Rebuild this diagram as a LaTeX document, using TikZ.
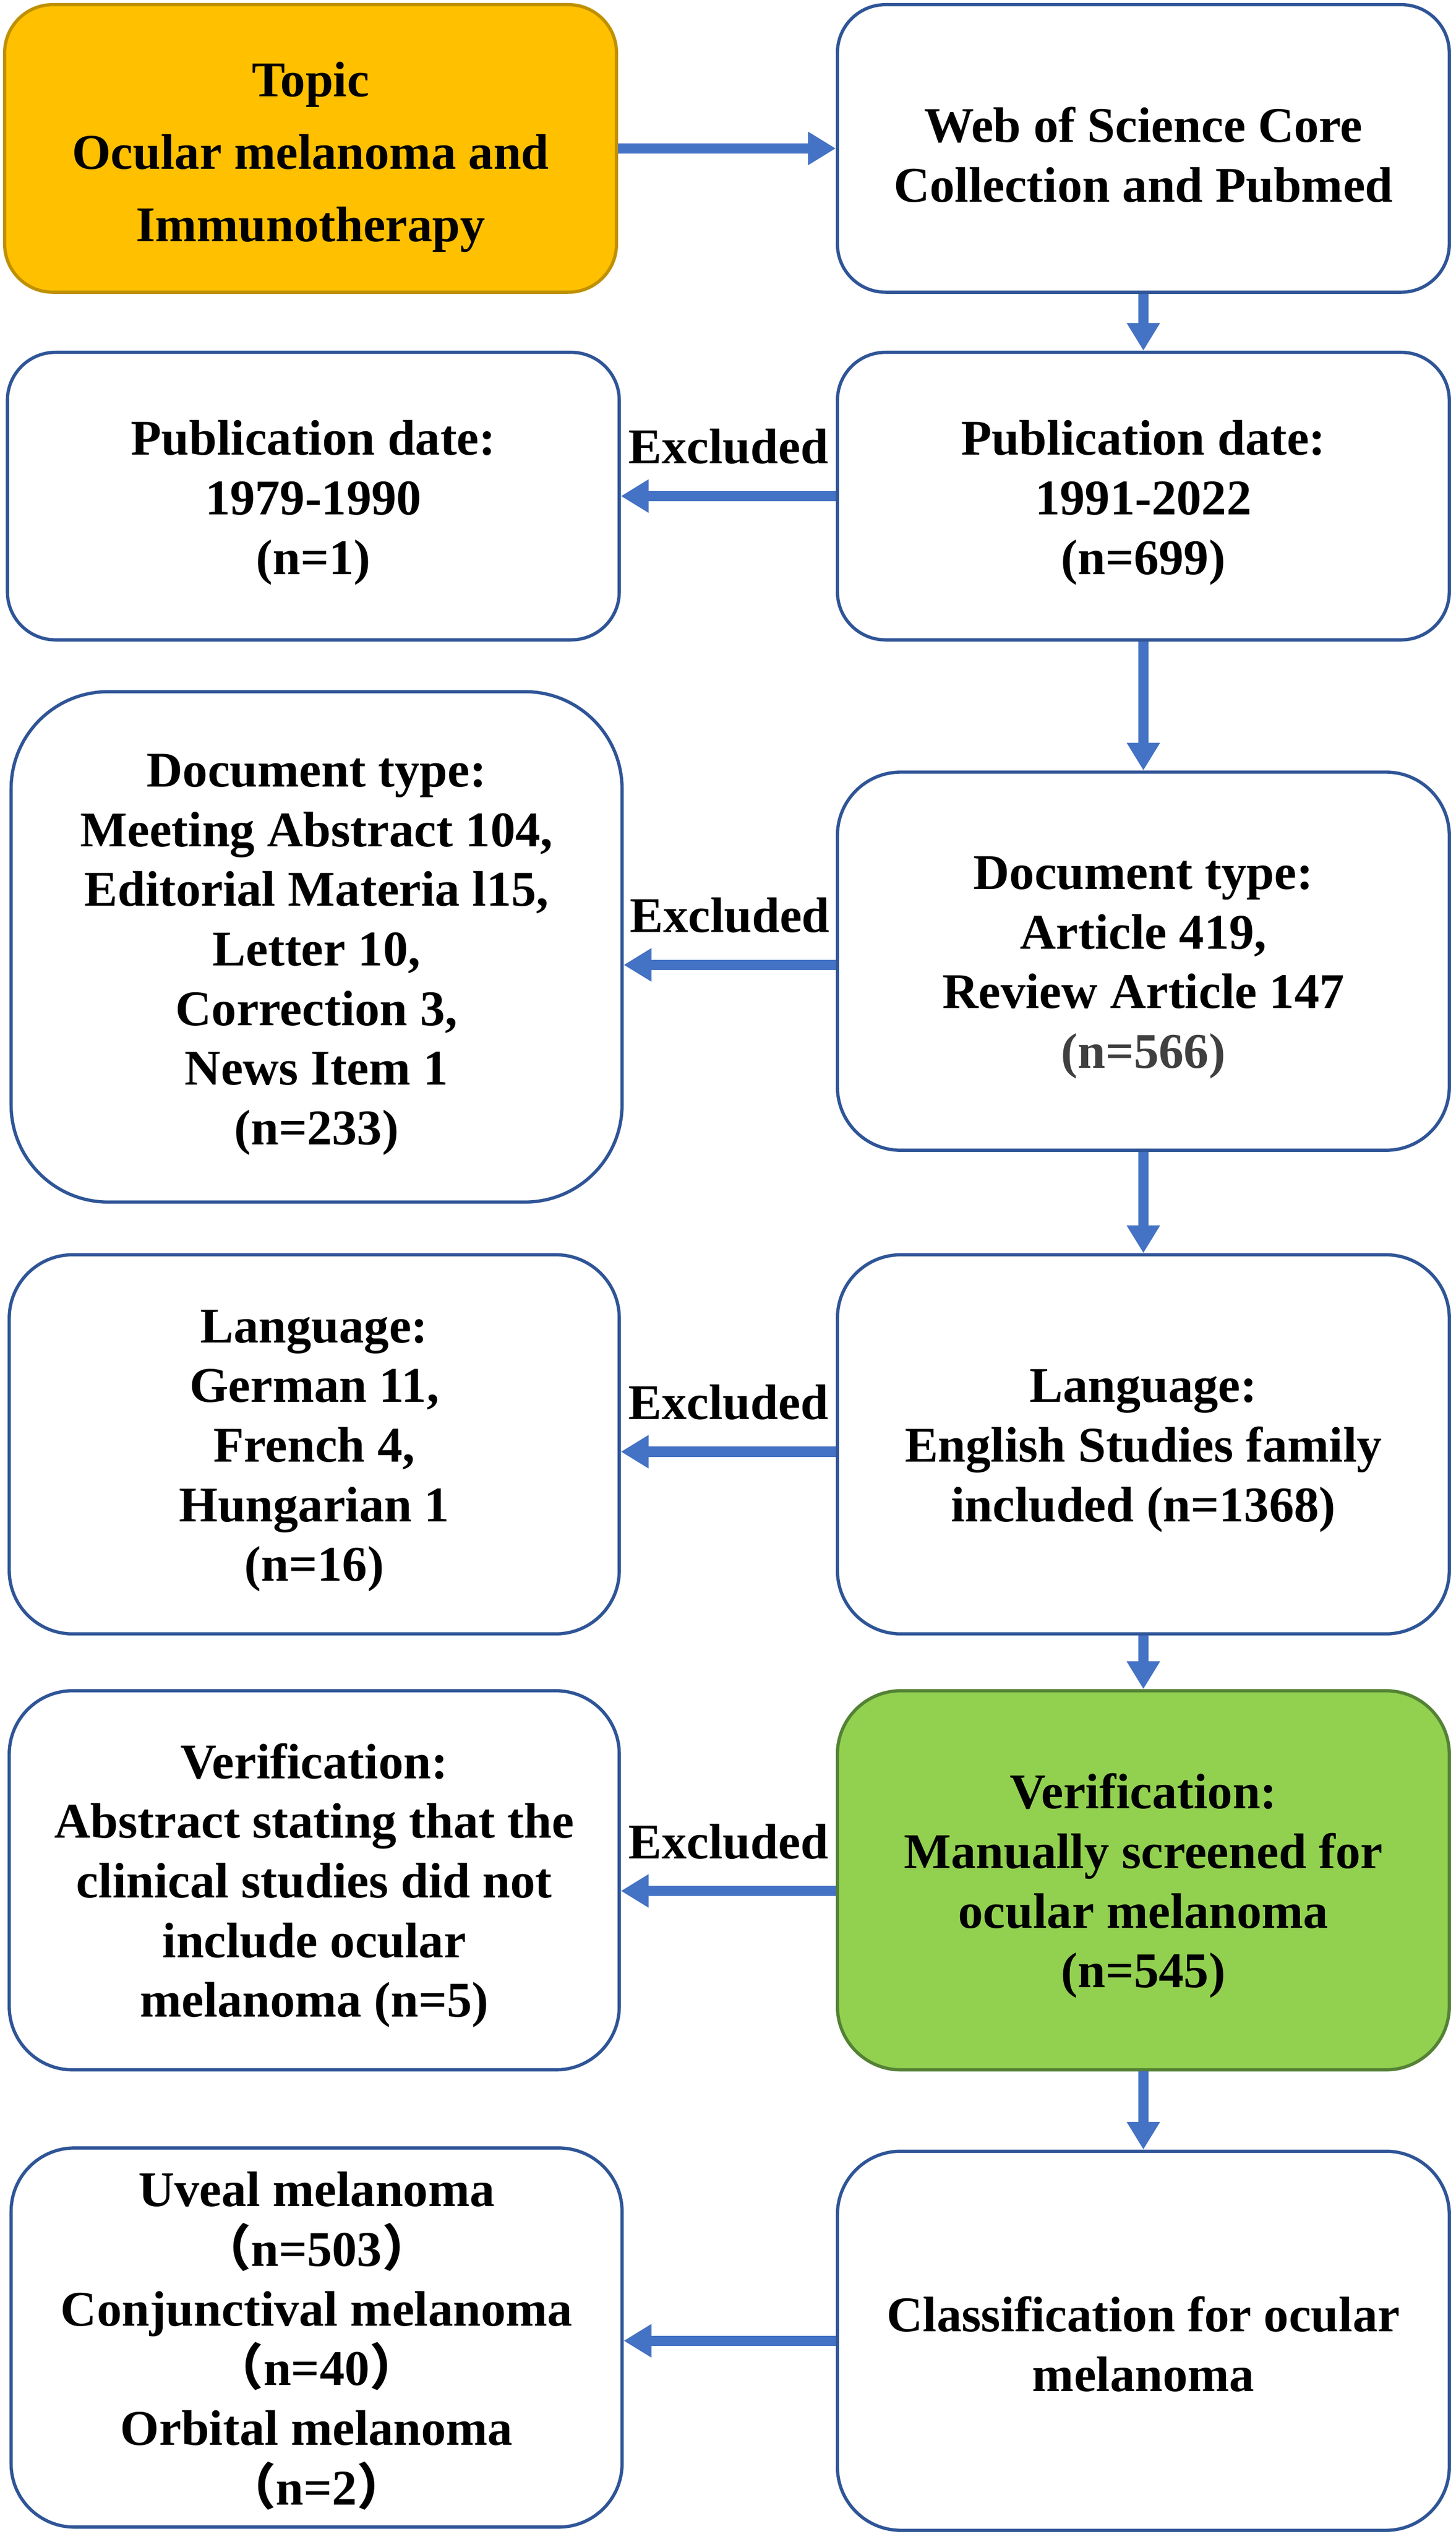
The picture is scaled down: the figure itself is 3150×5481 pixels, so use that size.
\documentclass[tikz,border=0pt]{standalone}
\usepackage{fontspec}
\setmainfont{Liberation Serif}
\newfontfamily\cjkfont{Noto Sans CJK SC}
\usetikzlibrary{arrows.meta,calc}
\definecolor{bordblue}{HTML}{2F5597}
\definecolor{arrblue}{HTML}{4472C4}
\definecolor{topicfill}{HTML}{FFC000}
\definecolor{topicline}{HTML}{BF9000}
\definecolor{greenfill}{HTML}{92D050}
\definecolor{greenline}{HTML}{548235}
\definecolor{ngray}{HTML}{404040}
\newcommand{\fwl}{{\cjkfont （}}
\newcommand{\fwr}{{\cjkfont ）}}
\tikzset{
  box/.style={draw=bordblue, fill=white, line width=0.7pt, inner sep=0pt},
  smallbox/.style={box, minimum width=132.4pt, minimum height=62.2pt, rounded corners=10.4pt},
  midbox/.style={box, minimum width=132.4pt, minimum height=82pt, rounded corners=13.7pt},
  topicbox/.style={smallbox, draw=topicline, fill=topicfill},
  greenbox/.style={midbox, draw=greenline, fill=greenfill},
  txt/.style={align=center, inner sep=0pt, font=\fontsize{10.8}{12.9}\selectfont\bfseries},
  topictxt/.style={txt, font=\fontsize{10.8}{15.7}\selectfont\bfseries},
  arr/.style={draw=arrblue, line width=2.2pt, -{Triangle[width=6.8pt,length=6pt]}},
  exlabel/.style={font=\fontsize{10.8}{12.9}\selectfont\bfseries, inner sep=0pt, yshift=10.7pt}
}
\begin{document}
\begin{tikzpicture}[x=0.1pt,y=-0.1pt]
\useasboundingbox (0,0) rectangle (3150,5481);

% boxes
\node[topicbox] (topic) at (672,321) {};
\node[smallbox] (wos) at (2474,321) {};
\node[smallbox] (pubL) at (678,1073) {};
\node[smallbox] (pubR) at (2474,1073) {};
\node[box, minimum width=132.2pt, minimum height=110.4pt, rounded corners=21pt] (docL) at (685,2048) {};
\node[midbox, minimum height=81.8pt] (docR) at (2474,2079) {};
\node[midbox, minimum width=132pt] (langL) at (680,3124) {};
\node[midbox] (langR) at (2474,3124) {};
\node[midbox, minimum width=132pt] (verL) at (680,4067) {};
\node[greenbox] (verR) at (2474,4067) {};
\node[midbox, minimum width=132.2pt] (clsL) at (685,5056) {};
\node[midbox] (clsR) at (2474,5063) {};

% texts
\node[topictxt] (topicT) at ($(topic.center)+(0,19)$) {Topic\\Ocular melanoma and\\Immunotherapy};
\node[txt] (wosT) at ($(wos.center)+(0,14)$) {Web of Science Core\\Collection and Pubmed};
\node[txt] (pubLT) at ($(pubL.center)+(0,14)$) {Publication date:\\1979-1990\\(n=1)};
\node[txt] (pubRT) at ($(pubR.center)+(0,14)$) {Publication date:\\1991-2022\\(n=699)};
\node[txt] (docLT) at ($(docL.center)+(0,17)$)
  {Document type:\\Meeting Abstract 104,\\Editorial Materia l15,\\Letter 10,\\Correction 3,\\News Item 1\\(n=233)};
\node[txt] (docRT) at ($(docR.center)+(0,14)$)
  {Document type:\\Article 419,\\Review Article 147\\{\color{ngray}(n=566)}};
\node[txt] (langLT) at ($(langL.center)+(0,14)$) {Language:\\German 11,\\French 4,\\Hungarian 1\\(n=16)};
\node[txt] (langRT) at ($(langR.center)+(0,14)$) {Language:\\English Studies family\\included (n=1368)};
\node[txt] (verLT) at ($(verL.center)+(0,11)$)
  {Verification:\\Abstract stating that the\\clinical studies did not\\include ocular\\melanoma (n=5)};
\node[txt] (verRT) at ($(verR.center)+(0,12)$) {Verification:\\Manually screened for\\ocular melanoma\\(n=545)};
\node[txt] (clsLT) at ($(clsL.center)+(0,7)$)
  {Uveal melanoma\\\fwl n=503\fwr\\Conjunctival melanoma\\\fwl n=40\fwr\\Orbital melanoma\\\fwl n=2\fwr};
\node[txt] (clsRT) at ($(clsR.center)+(0,7)$) {Classification for ocular\\melanoma};

% right-pointing and down arrows
\draw[arr] (topic.east) -- (wos.west);
\draw[arr] (wos.south) -- (pubR.north);
\draw[arr] (pubR.south) -- (docR.north);
\draw[arr] (docR.south) -- (langR.north);
\draw[arr] (langR.south) -- (verR.north);
\draw[arr] (verR.south) -- (clsR.north);

% excluded arrows
\draw[arr] (pubR.west) -- (pubR.west -| pubL.east) node[midway, exlabel] {Excluded};
\draw[arr] ($(docR.west)+(0,8)$) -- ($(docR.west -| docL.east)+(0,8)$) node[midway, exlabel] {Excluded};
\draw[arr] ($(langR.west)+(0,16)$) -- ($(langR.west -| langL.east)+(0,16)$) node[midway, exlabel] {Excluded};
\draw[arr] ($(verR.west)+(0,23)$) -- ($(verR.west -| verL.east)+(0,23)$) node[midway, exlabel] {Excluded};
\draw[arr] (clsR.west) -- (clsR.west -| clsL.east);
\end{tikzpicture}
\end{document}
